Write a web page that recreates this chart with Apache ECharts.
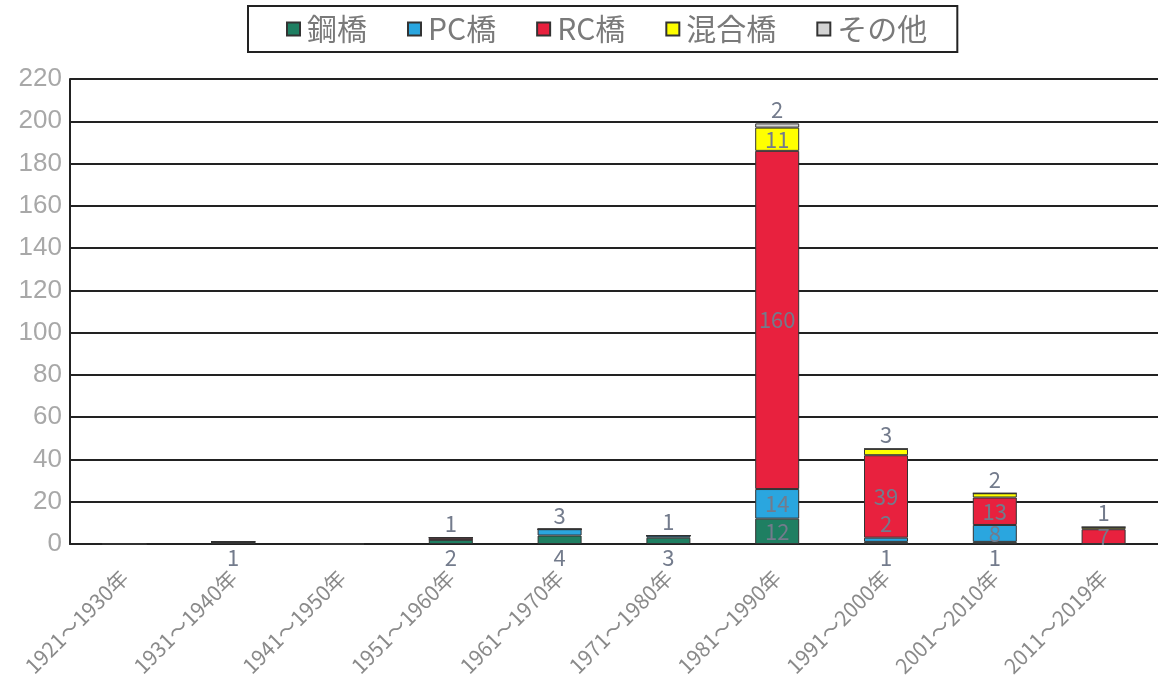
<!DOCTYPE html>
<html>
<head>
<meta charset="utf-8">
<script src="https://cdn.jsdelivr.net/npm/echarts@6/dist/echarts.min.js"></script>
<style>
  html, body { margin: 0; padding: 0; background: #fff; }
  #chart { width: 1158px; height: 684px; }
</style>
</head>
<body>
<div id="chart"></div>
<script>
const categories = ['1921～1930年', '1931～1940年', '1941～1950年', '1951～1960年', '1961～1970年',
  '1971～1980年', '1981～1990年', '1991～2000年', '2001～2010年', '2011～2019年'];
const steel = [0, 1, 0, 2, 4, 3, 12, 1, 1, 0];
const pc = [0, 0, 0, 0, 3, 1, 14, 2, 8, 0];
const rc = [0, 0, 0, 1, 0, 0, 160, 39, 13, 7];
const mixed = [0, 0, 0, 0, 0, 0, 11, 3, 2, 1];
const other = [0, 0, 0, 0, 0, 0, 2, 0, 0, 0];
const yTicks = [0, 20, 40, 60, 80, 100, 120, 140, 160, 180, 200, 220];

const font = '"Noto Sans CJK JP", "Noto Sans", sans-serif';
const labelColor = '#737b8c';

// small segments get their label outside, big ones inside
function makeSeries(name, values, color, smallPos) {
  return {
    name: name,
    type: 'bar',
    stack: 'all',
    barWidth: 44,
    itemStyle: { color: color, borderColor: '#333', borderWidth: 1 },
    data: values.map(v => ({
      value: v,
      label: {
        show: v > 0,
        position: v < 5 ? smallPos : 'inside',
        distance: 3,
        color: labelColor,
        fontSize: 22,
        fontFamily: font
      }
    }))
  };
}

const chart = echarts.init(document.getElementById('chart'));
chart.setOption({
  animation: false,
  textStyle: { fontFamily: font },
  legend: {
    left: 248,
    top: 6,
    padding: [8, 30, 8, 38],
    itemGap: 40,
    itemWidth: 13,
    itemHeight: 13,
    icon: 'rect',
    borderColor: '#222',
    borderWidth: 2,
    backgroundColor: '#fff',
    textStyle: { fontSize: 30, color: '#7a7a7a', fontFamily: font, padding: [0, 0, 0, 2] }
  },
  grid: { left: 70, top: 79, width: 1095, height: 465 },
  xAxis: {
    type: 'category',
    data: categories,
    axisLine: { lineStyle: { color: '#222', width: 2 } },
    axisTick: { show: false },
    axisLabel: {
      rotate: 45,
      interval: 0,
      margin: 30,
      fontSize: 21,
      color: '#8a8a8a',
      fontFamily: font
    }
  },
  yAxis: {
    type: 'value',
    min: 0,
    max: 220,
    interval: 20,
    axisLine: { show: true, lineStyle: { color: '#222', width: 2 } },
    axisTick: { show: false },
    splitLine: { lineStyle: { color: '#222', width: 2 } },
    axisLabel: {
      fontSize: 26,
      color: '#a8a8a8',
      margin: 8,
      fontFamily: '"Liberation Sans", Arial, sans-serif',
      formatter: v => yTicks.includes(v) ? String(v) : ''
    }
  },
  series: [
    makeSeries('鋼橋', steel, '#1f7f62', 'bottom'),
    makeSeries('PC橋', pc, '#2aa6df', 'top'),
    makeSeries('RC橋', rc, '#e8213e', 'top'),
    makeSeries('混合橋', mixed, '#ffff00', 'top'),
    makeSeries('その他', other, '#d4d4d4', 'top')
  ]
});
</script>
</body>
</html>
